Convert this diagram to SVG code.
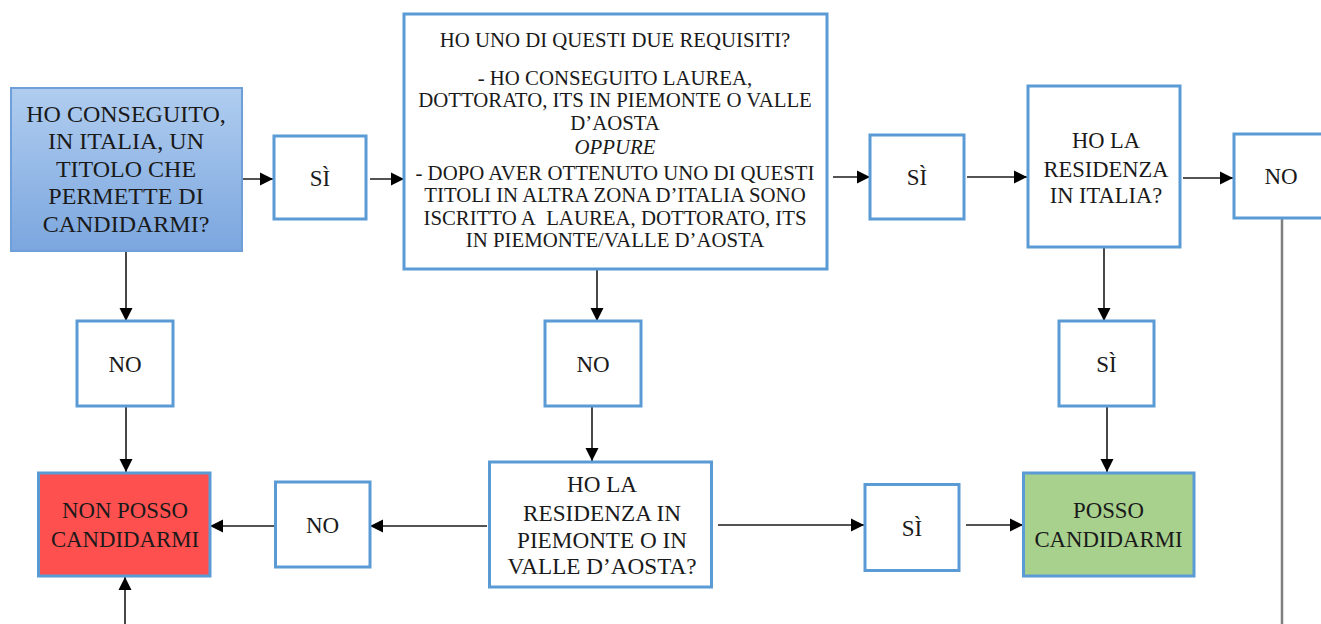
<svg xmlns="http://www.w3.org/2000/svg" width="1321" height="624" viewBox="0 0 1321 624">
<style>
.box{fill:#ffffff;stroke:#5b9bd5;stroke-width:3}
.t{font-family:"Liberation Serif","Times New Roman",serif;fill:#1a1a1a;text-anchor:middle}
.lbl{font-size:23px}
.big{font-size:20.8px}
.q{font-size:22.5px}
.c{stroke:#1a1a1a;stroke-width:1.6;fill:none;marker-end:url(#ah)}
.g{stroke:#808080;stroke-width:2.5;fill:none}
</style>
<defs>
<marker id="ah" markerUnits="userSpaceOnUse" markerWidth="14" markerHeight="14" refX="13" refY="7" orient="auto">
<path d="M0,0.5 L13,7 L0,13.5 Z" fill="#000"/>
</marker>
<linearGradient id="blueg" x1="0" y1="0" x2="0" y2="1">
<stop offset="0" stop-color="#b0cdef"/>
<stop offset="1" stop-color="#7ba6df"/>
</linearGradient>
</defs>
<rect width="1321" height="624" fill="#ffffff"/>

<g id="connectors">
<line class="c" x1="236" y1="179" x2="273" y2="179"/>
<line class="c" x1="370" y1="179" x2="404" y2="179"/>
<line class="c" x1="833" y1="177" x2="870" y2="177"/>
<line class="c" x1="967" y1="177" x2="1027" y2="177"/>
<line class="c" x1="1183" y1="178" x2="1233" y2="178"/>
<line class="g" x1="1282" y1="218" x2="1282" y2="624"/>
<line class="c" x1="126" y1="251" x2="126" y2="321"/>
<line class="c" x1="126" y1="406" x2="126" y2="472"/>
<line class="c" x1="125" y1="624" x2="125" y2="577"/>
<line class="c" x1="597" y1="269" x2="597" y2="321"/>
<line class="c" x1="592" y1="406" x2="592" y2="461"/>
<line class="c" x1="487" y1="526" x2="370" y2="526"/>
<line class="c" x1="276" y1="526" x2="210" y2="526"/>
<line class="c" x1="718" y1="525" x2="864" y2="525"/>
<line class="c" x1="966" y1="525" x2="1023" y2="525"/>
<line class="c" x1="1104" y1="247" x2="1104" y2="321"/>
<line class="c" x1="1107" y1="406" x2="1107" y2="472"/>
</g>

<g id="start">
<rect x="11" y="88" width="231" height="163" fill="url(#blueg)" stroke="#6f9fd8" stroke-width="2"/>
<text class="t" x="126" y="121.7" font-size="24">HO CONSEGUITO,</text>
<text class="t" x="126" y="149.3" font-size="24">IN ITALIA, UN</text>
<text class="t" x="126" y="176.9" font-size="24">TITOLO CHE</text>
<text class="t" x="126" y="204.4" font-size="24">PERMETTE DI</text>
<text class="t" x="126" y="231.8" font-size="24">CANDIDARMI?</text>
</g>

<g id="si1">
<rect class="box" x="274" y="136" width="92" height="83"/>
<text class="t lbl" x="320" y="186">SÌ</text>
</g>

<g id="requisiti">
<rect class="box" x="404" y="14" width="423" height="255"/>
<text class="t big" x="615" y="47">HO UNO DI QUESTI DUE REQUISITI?</text>
<text class="t big" x="615" y="85">- HO CONSEGUITO LAUREA,</text>
<text class="t big" x="615" y="107.3">DOTTORATO, ITS IN PIEMONTE O VALLE</text>
<text class="t big" x="615" y="129.6">D’AOSTA</text>
<text class="t big" x="615" y="154" font-style="italic">OPPURE</text>
<text class="t big" x="615" y="179.5">- DOPO AVER OTTENUTO UNO DI QUESTI</text>
<text class="t big" x="615" y="202">TITOLI IN ALTRA ZONA D’ITALIA SONO</text>
<text class="t big" x="615" y="224.5">ISCRITTO A&#160; LAUREA, DOTTORATO, ITS</text>
<text class="t big" x="615" y="247">IN PIEMONTE/VALLE D’AOSTA</text>
</g>

<g id="si2">
<rect class="box" x="870" y="135" width="94" height="84"/>
<text class="t lbl" x="917" y="185">SÌ</text>
</g>

<g id="residenza-italia">
<rect class="box" x="1028" y="86" width="152" height="161"/>
<text class="t q" x="1106" y="148.3">HO LA</text>
<text class="t q" x="1106" y="176.7">RESIDENZA</text>
<text class="t q" x="1106" y="203.3">IN ITALIA?</text>
</g>

<g id="no-right">
<rect class="box" x="1234" y="134" width="100" height="84"/>
<text class="t lbl" x="1281" y="184">NO</text>
</g>

<g id="no1">
<rect class="box" x="77" y="321" width="96" height="85"/>
<text class="t lbl" x="125" y="371.5">NO</text>
</g>

<g id="no2">
<rect class="box" x="545" y="321" width="96" height="85"/>
<text class="t lbl" x="593" y="371.5">NO</text>
</g>

<g id="si4">
<rect class="box" x="1059" y="321" width="95" height="85"/>
<text class="t lbl" x="1106.5" y="371.5">SÌ</text>
</g>

<g id="non-posso">
<rect x="38.5" y="473" width="171.5" height="103" fill="#ff5050" stroke="#5b9bd5" stroke-width="3"/>
<text class="t" x="125" y="518" font-size="22.8">NON POSSO</text>
<text class="t" x="125" y="546.5" font-size="22.8">CANDIDARMI</text>
</g>

<g id="no3">
<rect class="box" x="275.5" y="482" width="94.5" height="85"/>
<text class="t lbl" x="322.5" y="532.5">NO</text>
</g>

<g id="residenza-piemonte">
<rect class="box" x="489.5" y="462" width="222" height="125"/>
<text class="t" x="602" y="491.7" font-size="23.2">HO LA</text>
<text class="t" x="602" y="520.7" font-size="23.2">RESIDENZA IN</text>
<text class="t" x="602" y="547.7" font-size="23.2">PIEMONTE O IN</text>
<text class="t" x="602" y="574.3" font-size="23.2">VALLE D’AOSTA?</text>
</g>

<g id="si3">
<rect class="box" x="865" y="484.5" width="94" height="86"/>
<text class="t lbl" x="912" y="535.5">SÌ</text>
</g>

<g id="posso">
<rect x="1023.5" y="473" width="170.5" height="103" fill="#a9d18e" stroke="#5b9bd5" stroke-width="3"/>
<text class="t" x="1108.5" y="518" font-size="22.8">POSSO</text>
<text class="t" x="1108.5" y="546.5" font-size="22.8">CANDIDARMI</text>
</g>
</svg>
